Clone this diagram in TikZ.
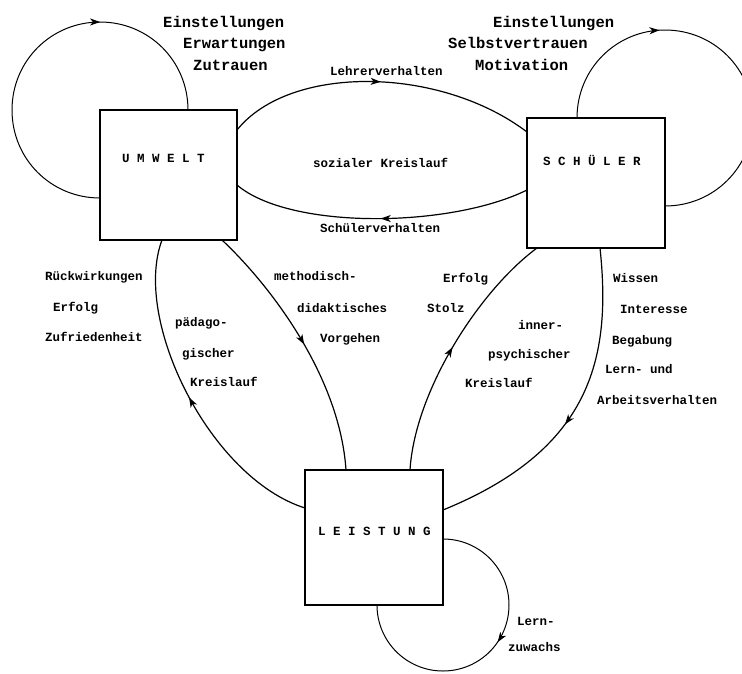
\documentclass[tikz,border=0pt]{standalone}
\usepackage{fontspec}
\newfontfamily\monofont{Liberation Mono}
\usetikzlibrary{arrows.meta,decorations.markings,calc}
\newcommand\lblfont{\monofont\bfseries\fontsize{12.5}{14}\selectfont}
\newcommand\bigfont{\monofont\bfseries\fontsize{15.5}{18}\selectfont}
\tikzset{
  box/.style={draw, line width=2.6pt, outer sep=0pt, inner sep=0pt},
  conn/.style={line width=1.2pt},
  loopline/.style={line width=1pt},
  midarrow/.style={postaction={decorate}, decoration={markings,
     mark=at position #1 with {\arrow{Stealth[length=10pt,width=7pt,inset=2.8pt]}}}},
  lbl/.style={font=\lblfont, anchor=base west, inner sep=0pt},
  big/.style={font=\bigfont, anchor=base west, inner sep=0pt},
  boxlbl/.style={font=\lblfont, anchor=base west, inner sep=0pt}
}
\begin{document}
\begin{tikzpicture}[x=1pt,y=-1pt]
\useasboundingbox (0,0) rectangle (742,673);

% boxes
\node[box, minimum width=137pt, minimum height=130pt,
  label={[boxlbl, xshift=22pt, yshift=-52pt]north west:{U M W E L T}}] (u) at (168.5,175) {};
\node[box, minimum width=138pt, minimum height=130pt,
  label={[boxlbl, xshift=16pt, yshift=-47pt]north west:{S C H Ü L E R}}] (s) at (596,183) {};
\node[box, minimum width=138pt, minimum height=135pt,
  label={[boxlbl, xshift=13pt, yshift=-65pt]north west:{L E I S T U N G}}] (l) at (374,537.5) {};

% self loops
\draw[loopline, midarrow=0.667] ($(u.north west)+(0,88)$)
  .. controls (51,198) and (12,159) .. (12,110)
  .. controls (12,61) and (51,22) .. (100,22)
  .. controls (149,22) and (188,61) .. ($(u.north west)+(88,0)$);
\draw[loopline, midarrow=0.32] ($(s.north west)+(50,0)$)
  .. controls (577,69) and (616,30) .. (665,30)
  .. controls (714,30) and (753,69) .. (753,118)
  .. controls (753,167) and (714,206) .. ($(s.north west)+(138,88)$);
\draw[loopline, midarrow=0.46] ($(l.north west)+(138,69)$)
  .. controls (479.5,539) and (509,568.5) .. (509,605)
  .. controls (509,641.5) and (479.5,671) .. (443,671)
  .. controls (406.5,671) and (377,641.5) .. ($(l.north west)+(72,135)$);

% social cycle
\draw[conn, midarrow=0.5] ($(u.north west)+(137,20)$)
  .. controls (290,64) and (440,66) .. ($(s.north west)+(0,14)$);
\draw[conn, midarrow=0.5] ($(s.north west)+(0,72)$)
  .. controls (450,228) and (290,230) .. ($(u.north west)+(137,75)$);

% pedagogical cycle
\draw[conn, midarrow=0.5] ($(l.north west)+(0,38)$)
  .. controls (210,478) and (132,320) .. ($(u.north west)+(62,130)$);
\draw[conn, midarrow=0.5] ($(u.north west)+(122,130)$)
  .. controls (275,290) and (340,380) .. ($(l.north west)+(41,0)$);

% inner-psychic cycle
\draw[conn, midarrow=0.5] ($(l.north west)+(105,0)$)
  .. controls (415,390) and (480,290) .. ($(s.north west)+(10,130)$);
\draw[conn, midarrow=0.55] ($(s.north west)+(73,130)$)
  .. controls (612,360) and (590,450) .. ($(l.north west)+(138,40)$);

% top labels
\node[big] (t1) at (163,27) {Einstellungen};
\node[big] (t2) at (183,48) {Erwartungen};
\node[big] (t3) at (193,70) {Zutrauen};
\node[big] (t4) at (493,27) {Einstellungen};
\node[big] (t5) at (448,48) {Selbstvertrauen};
\node[big] (t6) at (475,70) {Motivation};

% social labels
\node[lbl] (a1) at (330,75) {Lehrerverhalten};
\node[lbl] (a2) at (313,167) {sozialer Kreislauf};
\node[lbl] (a3) at (320,232) {Schülerverhalten};

% left labels
\node[lbl] (b1) at (45,280) {Rückwirkungen};
\node[lbl] (b2) at (53,311) {Erfolg};
\node[lbl] (b3) at (45,341) {Zufriedenheit};
\node[lbl] (b4) at (175,326) {pädago-};
\node[lbl] (b5) at (182,357) {gischer};
\node[lbl] (b6) at (190,386) {Kreislauf};
\node[lbl] (b7) at (274,280) {methodisch-};
\node[lbl] (b8) at (297,312) {didaktisches};
\node[lbl] (b9) at (320,342) {Vorgehen};

% right labels
\node[lbl] (c1) at (443,282) {Erfolg};
\node[lbl] (c2) at (427,312) {Stolz};
\node[lbl] (c3) at (518,329) {inner-};
\node[lbl] (c4) at (488,358) {psychischer};
\node[lbl] (c5) at (465,387) {Kreislauf};
\node[lbl] (c6) at (613,282) {Wissen};
\node[lbl] (c7) at (620,313) {Interesse};
\node[lbl] (c8) at (612,344) {Begabung};
\node[lbl] (c9) at (605,373) {Lern- und};
\node[lbl] (c10) at (597,404) {Arbeitsverhalten};

% bottom labels
\node[lbl] (d1) at (517,625) {Lern-};
\node[lbl] (d2) at (508,651) {zuwachs};
\end{tikzpicture}
\end{document}
